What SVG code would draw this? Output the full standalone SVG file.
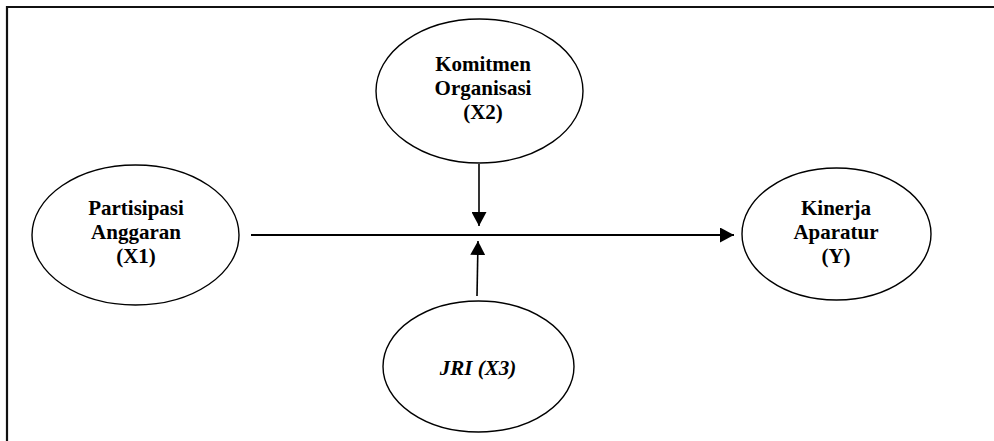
<svg xmlns="http://www.w3.org/2000/svg" width="994" height="441" viewBox="0 0 994 441">
<style>
.n{fill:#fff;stroke:#000;stroke-width:1.4}
.t{font-family:"Liberation Serif","Times New Roman",serif;font-weight:bold;font-size:21px;fill:#000;text-anchor:middle}
.i{font-style:italic}
.c{stroke:#000;fill:none}
</style>
<defs>
<marker id="ah" viewBox="0 0 14 15" refX="14" refY="7.5" markerWidth="14" markerHeight="15" markerUnits="userSpaceOnUse" orient="auto">
<path d="M0,0 L14,7.5 L0,15 Z" fill="#000"/>
</marker>
</defs>
<rect width="994" height="441" fill="#fff"/>
<path d="M7,441 V7 H994" fill="none" stroke="#111" stroke-width="2.2"/>
<g id="x2">
<ellipse class="n" cx="479.5" cy="91" rx="103.5" ry="72"/>
<text class="t" x="483" y="71">Komitmen</text>
<text class="t" x="483" y="95">Organisasi</text>
<text class="t" x="483" y="119">(X2)</text>
</g>
<g id="x1">
<ellipse class="n" cx="135.5" cy="235" rx="103.5" ry="70"/>
<text class="t" x="136" y="215">Partisipasi</text>
<text class="t" x="136" y="239">Anggaran</text>
<text class="t" x="136" y="263">(X1)</text>
</g>
<g id="y">
<ellipse class="n" cx="836.5" cy="234" rx="94.5" ry="66"/>
<text class="t" x="836" y="215">Kinerja</text>
<text class="t" x="836" y="239">Aparatur</text>
<text class="t" x="836" y="263">(Y)</text>
</g>
<g id="x3">
<ellipse class="n" cx="478.5" cy="366.5" rx="95.5" ry="65.5"/>
<text class="t i" x="478" y="375">JRI (X3)</text>
</g>
<g id="connectors">
<line class="c" x1="251" y1="235" x2="734" y2="235" stroke-width="2" marker-end="url(#ah)"/>
<line class="c" x1="479" y1="164" x2="479" y2="226" stroke-width="1.6" marker-end="url(#ah)"/>
<line class="c" x1="477" y1="296" x2="478" y2="241" stroke-width="1.6" marker-end="url(#ah)"/>
</g>
</svg>
